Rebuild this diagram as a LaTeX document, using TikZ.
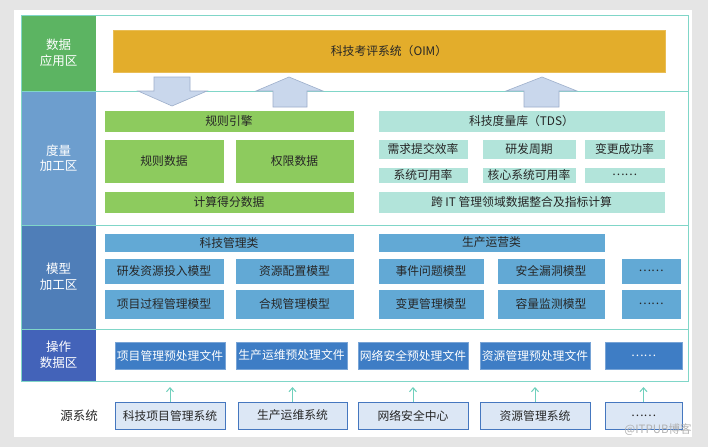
\documentclass[tikz,border=0pt]{standalone}
\usepackage{fontspec}
\setmainfont{Noto Sans CJK SC}
\usetikzlibrary{arrows.meta}
\definecolor{bggray}{HTML}{E5E5E5}
\definecolor{frameteal}{HTML}{80D6C8}
\definecolor{zgreen}{HTML}{5CB462}
\definecolor{zmeas}{HTML}{6D9ECE}
\definecolor{zmodel}{HTML}{4F7EB8}
\definecolor{zop}{HTML}{4363B9}
\definecolor{oim}{HTML}{E3AD2B}
\definecolor{rgreen}{HTML}{8DCB5E}
\definecolor{tteal}{HTML}{B2E4DA}
\definecolor{mblue}{HTML}{62A9D5}
\definecolor{opblue}{HTML}{3E7DC5}
\definecolor{srcfill}{HTML}{DCE7F5}
\definecolor{srcline}{HTML}{4577BF}
\definecolor{arrfill}{HTML}{C9D7EC}
\definecolor{arrline}{HTML}{9DAFCB}
\definecolor{upteal}{HTML}{6FD0BC}
\definecolor{txt}{HTML}{262626}
\newcommand\bx[7]{\node[#6, minimum width={(#4-#2)*1pt}, minimum height={(#5-#3)*1pt}] (#1) at ({(#2+#4)/2},{(#3+#5)/2}) {#7};}
\tikzset{
  base/.style={inner sep=0pt, outer sep=0pt, font=\fontsize{11.8}{13}\selectfont, text=txt},
  zone/.style={base, font=\fontsize{12.5}{15.5}\selectfont, text=white, align=center},
  oimbox/.style={base, fill=oim, draw=oim!80!white},
  gbox/.style={base, fill=rgreen, draw=white, line width=0.6pt},
  tbox/.style={base, fill=tteal, draw=white, line width=0.6pt},
  mbox/.style={base, fill=mblue, draw=white, line width=0.6pt},
  obox/.style={base, fill=opblue, draw=opblue!70!white, line width=0.6pt, text=white},
  sbox/.style={base, fill=srcfill, draw=srcline, line width=1pt},
  blockarrow/.style={fill=arrfill, draw=arrline, line width=0.6pt},
  srcarrow/.style={draw=upteal, line width=1pt, -{Straight Barb[length=4pt,width=7pt]}},
}
\begin{document}
\begin{tikzpicture}[x=1pt,y=-1pt]
\useasboundingbox (0,0) rectangle (708,447);
\fill[bggray] (0,0) rectangle (708,447);
\fill[white] (14,10) rectangle (692,437);
% zones
\bx{zdata}{21}{15}{96}{91}{zone, fill=zgreen}{数据\\应用区}
\bx{zmeas}{21}{91}{96}{225}{zone, fill=zmeas}{度量\\加工区}
\bx{zmodel}{21}{225}{96}{329}{zone, fill=zmodel}{模型\\加工区}
\bx{zop}{21}{329}{96}{381}{zone, fill=zop}{操作\\数据区}
\draw[frameteal, line width=0.9pt] (21,15) rectangle (688,381);
\foreach \yy in {91,225,329} \draw[frameteal, line width=0.9pt] (21,\yy) -- (688,\yy);
% data app
\bx{oimsys}{113}{30}{665}{72}{oimbox}{科技考评系统（OIM）}
% block arrows
\draw[blockarrow] (154,77) -- (190,77) -- (190,91) -- (207,91) -- (172,106) -- (138,91) -- (154,91) -- cycle;
\draw[blockarrow] (289,77) -- (323,91) -- (307,91) -- (307,107) -- (273,107) -- (273,91) -- (256,91) -- cycle;
\draw[blockarrow] (542,77) -- (577,91) -- (559,91) -- (559,107) -- (524,107) -- (524,91) -- (506,91) -- cycle;
% measurement
\bx{rule}{104}{110}{354}{132}{gbox}{规则引擎}
\bx{ruledata}{104}{139}{224}{183}{gbox}{规则数据}
\bx{permdata}{235}{139}{354}{183}{gbox}{权限数据}
\bx{score}{104}{191}{354}{213}{gbox}{计算得分数据}
\bx{tds}{378}{110}{665}{132}{tbox}{科技度量库（TDS）}
\bx{t11}{378}{139}{468}{159}{tbox}{需求提交效率}
\bx{t12}{482}{139}{576}{159}{tbox}{研发周期}
\bx{t13}{584}{139}{665}{159}{tbox}{变更成功率}
\bx{t21}{378}{167}{468}{183}{tbox}{系统可用率}
\bx{t22}{482}{167}{576}{183}{tbox}{核心系统可用率}
\bx{t23}{584}{167}{665}{183}{tbox}{……}
\bx{cross}{378}{191}{665}{213}{tbox}{跨 IT 管理领域数据整合及指标计算}
% model
\bx{techcls}{104}{233}{354}{252}{mbox}{科技管理类}
\bx{m11}{104}{258}{224}{284}{mbox}{研发资源投入模型}
\bx{m12}{235}{258}{354}{284}{mbox}{资源配置模型}
\bx{m21}{104}{289}{224}{319}{mbox}{项目过程管理模型}
\bx{m22}{235}{289}{354}{319}{mbox}{合规管理模型}
\bx{prodcls}{378}{233}{605}{252}{mbox}{生产运营类}
\bx{p11}{378}{258}{484}{284}{mbox}{事件问题模型}
\bx{p12}{497}{258}{605}{284}{mbox}{安全漏洞模型}
\bx{p13}{621}{258}{681}{284}{mbox}{……}
\bx{p21}{378}{289}{484}{319}{mbox}{变更管理模型}
\bx{p22}{497}{289}{605}{319}{mbox}{容量监测模型}
\bx{p23}{621}{289}{681}{319}{mbox}{……}
% operation
\bx{o1}{115}{342}{225}{369}{obox}{项目管理预处理文件}
\bx{o2}{236}{342}{347}{369}{obox}{生产运维预处理文件}
\bx{o3}{358}{342}{468}{369}{obox}{网络安全预处理文件}
\bx{o4}{480}{342}{590}{369}{obox}{资源管理预处理文件}
\bx{o5}{605}{342}{682}{369}{obox}{……}
% sources
\node[base, font=\fontsize{12.5}{14}\selectfont] (srclabel) at (79,416) {源系统};
\bx{s1}{115}{402}{225}{429}{sbox}{科技项目管理系统}
\bx{s2}{238}{402}{347}{429}{sbox}{生产运维系统}
\bx{s3}{358}{402}{468}{429}{sbox}{网络安全中心}
\bx{s4}{480}{402}{590}{429}{sbox}{资源管理系统}
\bx{s5}{605}{402}{682}{429}{sbox}{……}
\foreach \i in {1,...,5} {
  \coordinate (a\i) at ([yshift=15pt]s\i.north);
  \draw[srcarrow] (s\i.north) -- (a\i);
}
\node[inner sep=0pt, text=black!30, font=\fontsize{11.5}{13}\selectfont] (wm) at (658,430) {@ITPUB博客};
\end{tikzpicture}
\end{document}
